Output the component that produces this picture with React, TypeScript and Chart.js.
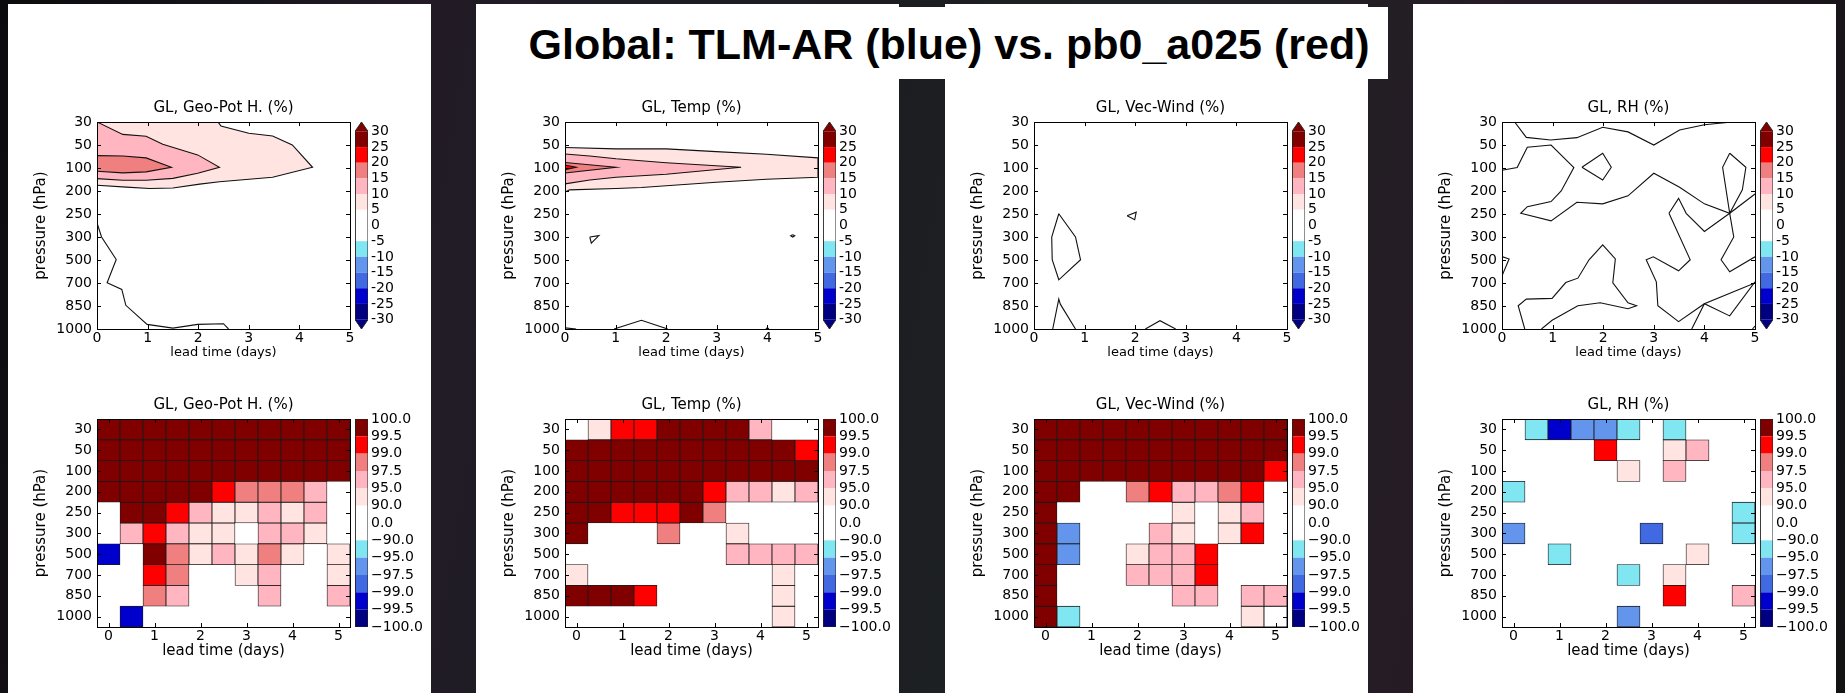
import React, { useEffect, useRef } from "react";
import { Chart, registerables } from "chart.js";

Chart.register(...registerables);

const FONT = "'DejaVu Sans', 'Liberation Sans', sans-serif";
Chart.defaults.font.family = FONT;
Chart.defaults.color = "#000";

/* ---------------- data ---------------- */
const pressureLevels = ["30", "50", "100", "200", "250", "300", "500", "700", "850", "1000"];
const leadTimes = [0, 0.5, 1, 1.5, 2, 2.5, 3, 3.5, 4, 4.5, 5];
const dayTicks = [0, 1, 2, 3, 4, 5];
const contourBounds = [-30, -25, -20, -15, -10, -5, 0, 5, 10, 15, 20, 25, 30];
const contourTickLabels = ["-30", "-25", "-20", "-15", "-10", "-5", "0", "5", "10", "15", "20", "25", "30"];
const sigBounds = [-100, -99.5, -99, -97.5, -95, -90, 0, 90, 95, 97.5, 99, 99.5, 100];
const sigTickLabels = ["−100.0", "−99.5", "−99.0", "−97.5", "−95.0", "−90.0", "0.0", "90.0", "95.0", "97.5", "99.0", "99.5", "100.0"];
const paletteColors = ["#000080", "#0000cd", "#4169e1", "#6495ed", "#80e6f2", "#ffffff", "#ffffff", "#ffe4e1", "#ffb6c1", "#f08080", "#ff0000", "#800000"];

// contour polygons / lines: [lead time (days), pressure level index (0 = 30 hPa ... 9 = 1000 hPa)]
const geoFill5 = [[0, 0], [2.39, 0], [2.45, 0.17], [3.0, 0.49], [3.47, 0.61], [3.86, 1.0], [4.26, 1.97], [3.47, 2.4], [2.42, 2.6], [2.03, 2.7], [1.5, 2.87], [1.04, 2.89], [0.58, 2.83], [0, 2.75]];
const geoFill10 = [[0, 0], [0.51, 0.54], [0.97, 0.62], [1.3, 0.97], [1.99, 1.43], [2.42, 1.97], [1.99, 2.23], [1.5, 2.45], [0.97, 2.53], [0.51, 2.53], [0, 2.46]];
const geoFill15 = [[0, 1.46], [0.51, 1.48], [0.97, 1.56], [1.47, 1.97], [0.97, 2.17], [0.51, 2.21], [0, 2.14]];
const geoLine0 = [[0, 4.39], [0.09, 5.0], [0.38, 5.98], [0.2, 6.99], [0.49, 7.28], [0.57, 7.97], [0.99, 8.8], [1.5, 8.96], [1.99, 8.8], [2.5, 8.77], [2.6, 9]];

const tempFill5 = [[0, 1.11], [1.01, 1.17], [2, 1.17], [2.99, 1.29], [3.98, 1.4], [5, 1.56], [5, 2.4], [3.98, 2.49], [2.99, 2.62], [1.51, 2.85], [1.01, 2.89], [0.09, 2.95], [0, 3.05]];
const tempFill10 = [[0, 1.39], [0.49, 1.48], [1.01, 1.6], [2, 1.77], [3.48, 1.97], [2, 2.27], [1.01, 2.4], [0.49, 2.52], [0, 2.69]];
const tempFill15 = [[0, 1.76], [1.01, 1.97], [0, 2.22]];
const tempFill20 = [[0, 1.87], [0.22, 1.97], [0, 2.07]];
const tempLineA = [[0.49, 5.0], [0.67, 4.94], [0.52, 5.27], [0.49, 5.0]];
const tempLineB = [[4.5, 4.9], [4.54, 4.95], [4.5, 5.0], [4.46, 4.95], [4.5, 4.9]];
const tempLineC = [[0.97, 9], [1.51, 8.62], [2.03, 9]];
const tempLineD = [[0, 8.95], [0.22, 9]];
const tempLineE = [[3.97, 9], [4.0, 8.94], [4.03, 9]];

const windLineA = [[0.49, 3.99], [0.82, 5.0], [0.92, 5.99], [0.49, 6.86], [0.36, 5.99], [0.35, 5.0], [0.49, 3.99]];
const windLineB = [[1.84, 4.08], [2.02, 3.92], [1.99, 4.25], [1.84, 4.08]];
const windLineC = [[0.37, 9], [0.49, 7.7], [0.52, 7.92], [0.82, 9]];
const windLineD = [[2.2, 9], [2.49, 8.64], [2.8, 9]];

const rhLineA = [[0.25, 0], [0.48, 0.67], [0.96, 0.78], [1.48, 0.68], [1.99, 0.23], [2.49, 0.43], [3.0, 1.0], [3.51, 0.35], [4.0, 0.12], [4.5, 0.01], [5, 0]];
const rhLineB = [[0, 2.1], [0.3, 1.98], [0.5, 1.1], [0.97, 1.0], [1.42, 1.98], [1.17, 3.0], [0.97, 3.46], [0.5, 3.68], [0.37, 3.97], [0.97, 4.3], [1.48, 3.49], [1.99, 3.56], [2.49, 3.21], [3.0, 2.23], [3.51, 2.84], [4.0, 3.56], [4.5, 3.97], [5, 3.13]];
const rhLineC = [[1.58, 1.97], [1.99, 1.36], [2.16, 1.97], [1.99, 2.52], [1.58, 1.97]];
const rhLineD = [[4.5, 1.36], [4.82, 1.97], [4.75, 2.95], [4.5, 3.97], [4.36, 1.97], [4.5, 1.36]];
const rhLineE = [[4.5, 3.97], [4.58, 5.0], [4.33, 5.99], [4.5, 6.51], [5, 5.86]];
const rhLineF = [[3.3, 3.97], [3.49, 3.32], [3.64, 3.97], [4.0, 4.76], [4.5, 3.97]];
const rhLineG = [[3.3, 3.97], [3.72, 5.99], [3.49, 6.47], [2.99, 5.86], [2.85, 5.99], [3.05, 6.95], [3.08, 7.99], [3.49, 8.68], [4.0, 7.9], [4.5, 8.43], [5, 6.95]];
const rhLineH = [[3.75, 9], [4.0, 7.9], [4.66, 7.3], [5, 7.0]];
const rhLineI = [[0, 5.85], [0.14, 5.96], [0, 6.69]];
const rhLineJ = [[0.45, 9], [0.32, 7.99], [0.48, 7.7], [0.99, 7.67], [1.26, 6.98], [1.5, 6.79], [1.72, 5.99], [1.99, 5.34], [2.24, 5.95], [2.19, 6.99], [2.49, 7.86], [2.66, 7.99], [2.49, 8.12], [1.94, 7.86], [1.5, 7.99], [0.99, 8.62], [0.78, 9]];
const rhLineK = [[4.95, 9], [5, 8.87]];

// significance (%) per pressure level (rows, 30 -> 1000 hPa) and lead time (columns); null = not shown
const geoSig = [
  [99.8, 99.8, 99.8, 99.8, 99.8, 99.8, 99.8, 99.8, 99.8, 99.8, 99.8],
  [99.8, 99.8, 99.8, 99.8, 99.8, 99.8, 99.8, 99.8, 99.8, 99.8, 99.8],
  [99.8, 99.8, 99.8, 99.8, 99.8, 99.8, 99.8, 99.8, 99.8, 99.8, 99.8],
  [99.8, 99.8, 99.8, 99.8, 99.8, 99.2, 98.2, 98.2, 98.2, 96.2, null],
  [null, 99.8, 99.8, 99.2, 96.2, 92.5, 92.5, 96.2, 92.5, 96.2, null],
  [null, 96.2, 99.2, 96.2, 92.5, 92.5, null, 96.2, 96.2, 92.5, null],
  [-99.2, null, 99.8, 98.2, 92.5, 96.2, 92.5, 98.2, 92.5, null, 92.5],
  [null, null, 99.2, 98.2, null, null, 92.5, 96.2, null, null, 92.5],
  [null, null, 98.2, 96.2, null, null, null, 96.2, null, null, 96.2],
  [null, -99.2, null, null, null, null, null, null, null, null, null],
];
const tempSig = [
  [null, 92.5, 99.2, 99.2, 99.8, 99.8, 99.8, 99.8, 96.2, null, null],
  [99.8, 99.8, 99.8, 99.8, 99.8, 99.8, 99.8, 99.8, 99.8, 99.8, 99.2],
  [99.8, 99.8, 99.8, 99.8, 99.8, 99.8, 99.8, 99.8, 99.8, 99.8, 99.8],
  [99.8, 99.8, 99.8, 99.8, 99.8, 99.8, 99.2, 96.2, 96.2, 92.5, 96.2],
  [99.8, 99.8, 99.2, 99.2, 99.2, 99.8, 98.2, null, null, null, null],
  [99.8, null, null, null, 98.2, null, null, 92.5, null, null, null],
  [null, null, null, null, null, null, null, 96.2, 96.2, 96.2, 96.2],
  [92.5, null, null, null, null, null, null, null, null, 92.5, null],
  [99.8, 99.8, 99.8, 99.2, null, null, null, null, null, 92.5, null],
  [null, null, null, null, null, null, null, null, null, 92.5, null],
];
const windSig = [
  [99.8, 99.8, 99.8, 99.8, 99.8, 99.8, 99.8, 99.8, 99.8, 99.8, 99.8],
  [99.8, 99.8, 99.8, 99.8, 99.8, 99.8, 99.8, 99.8, 99.8, 99.8, 99.8],
  [99.8, 99.8, 99.8, 99.8, 99.8, 99.8, 99.8, 99.8, 99.8, 99.8, 99.2],
  [99.8, 99.8, null, null, 98.2, 99.2, 96.2, 96.2, 98.2, 99.2, null],
  [99.8, null, null, null, null, null, 92.5, null, 92.5, 96.2, null],
  [99.8, -96.2, null, null, null, 96.2, 92.5, null, 92.5, 99.2, null],
  [99.8, -96.2, null, null, 92.5, 96.2, 96.2, 99.2, null, null, null],
  [99.8, null, null, null, 96.2, 96.2, 96.2, 99.2, null, null, null],
  [99.8, null, null, null, null, null, 96.2, 96.2, null, 96.2, 96.2],
  [99.8, -92.5, null, null, null, null, null, null, null, 92.5, 45],
];
const rhSig = [
  [null, -92.5, -99.2, -96.2, -96.2, -92.5, null, -92.5, null, null, null],
  [null, null, null, null, 99.2, null, null, 92.5, 96.2, null, null],
  [null, null, null, null, null, 92.5, null, 96.2, null, null, null],
  [-92.5, null, null, null, null, null, null, null, null, null, null],
  [null, null, null, null, null, null, null, null, null, null, -92.5],
  [-96.2, null, null, null, null, null, -98.2, null, null, null, -92.5],
  [null, null, -92.5, null, null, null, null, null, 92.5, null, null],
  [null, null, null, null, null, -92.5, null, 92.5, null, null, null],
  [null, null, null, null, null, null, null, 99.2, null, null, 96.2],
  [null, null, null, null, null, -96.2, null, null, null, null, null],
];

const topPanels = [
  { title: "GL, Geo-Pot H. (%)", fills: [{ level: 5, pts: geoFill5 }, { level: 10, pts: geoFill10 }, { level: 15, pts: geoFill15 }], lines: [geoLine0] },
  { title: "GL, Temp (%)", fills: [{ level: 5, pts: tempFill5 }, { level: 10, pts: tempFill10 }, { level: 15, pts: tempFill15 }, { level: 20, pts: tempFill20 }], lines: [tempLineA, tempLineB, tempLineC, tempLineD, tempLineE] },
  { title: "GL, Vec-Wind (%)", fills: [], lines: [windLineA, windLineB, windLineC, windLineD] },
  { title: "GL, RH (%)", fills: [], lines: [rhLineA, rhLineB, rhLineC, rhLineD, rhLineE, rhLineF, rhLineG, rhLineH, rhLineI, rhLineJ, rhLineK] },
];
const bottomPanels = [
  { title: "GL, Geo-Pot H. (%)", sig: geoSig },
  { title: "GL, Temp (%)", sig: tempSig },
  { title: "GL, Vec-Wind (%)", sig: windSig },
  { title: "GL, RH (%)", sig: rhSig },
];

/* ---------------- layout ---------------- */
const AX_LEFTS = [97, 565, 1034, 1502];
const AX_W = 253;
const TOP_AX = { top: 122, h: 207, xTitleSize: 13, xTitlePad: 5, xH: 36 };
const BOT_AX = { top: 419, h: 208, xTitleSize: 15, xTitlePad: 7, xH: 40 };
const Y_W = 92;
const T_H = 30;
const R_PAD = 14;
const CB_OFF = 258;
const CB_W = 13;
const CB_LABEL_W = 60;
const LINE_COLOR = "#111";
const BG = "linear-gradient(100deg, #0b0b0d 0%, #221b26 22%, #1b1d21 45%, #1f2224 60%, #261b25 78%, #121114 100%)";

const sigColor = (v: number) => {
  for (let k = sigBounds.length - 2; k >= 0; k--) if (v >= sigBounds[k]) return paletteColors[k];
  return paletteColors[0];
};
const toXY = (pts: number[][]) => pts.map(([x, y]) => ({ x, y }));

const frameTicks = {
  id: "frameTicks",
  afterDatasetsDraw(chart: any) {
    const { ctx, chartArea: a, scales } = chart;
    const L = 4;
    const r = (v: number) => Math.round(v) + 0.5;
    ctx.save();
    ctx.strokeStyle = "#000";
    ctx.lineWidth = 1;
    ctx.beginPath();
    for (const t of scales.x.ticks) {
      const px = r(scales.x.getPixelForValue(t.value));
      ctx.moveTo(px, a.bottom); ctx.lineTo(px, a.bottom - L);
      ctx.moveTo(px, a.top); ctx.lineTo(px, a.top + L);
    }
    for (const t of scales.y.ticks) {
      const py = r(scales.y.getPixelForValue(t.value));
      ctx.moveTo(a.left, py); ctx.lineTo(a.left + L, py);
      ctx.moveTo(a.right, py); ctx.lineTo(a.right - L, py);
    }
    ctx.stroke();
    ctx.strokeRect(r(a.left), r(a.top), Math.round(a.right) - Math.round(a.left), Math.round(a.bottom) - Math.round(a.top));
    ctx.restore();
  },
};

const titleOpts = (text: string) => ({
  display: true,
  text,
  fullSize: false,
  color: "#000",
  font: { family: FONT, size: 15, weight: "normal" },
  padding: { top: 7, bottom: 5 },
});

const xAxis = (min: number, max: number, row: any) => ({
  type: "linear",
  min,
  max,
  offset: false,
  afterBuildTicks: (s: any) => { s.ticks = dayTicks.map((v) => ({ value: v })); },
  afterFit: (s: any) => { s.height = row.xH; s.paddingLeft = 0; s.paddingRight = 0; },
  ticks: { autoSkip: false, maxRotation: 0, padding: 1, color: "#000", font: { size: 14 }, callback: (v: any) => String(v) },
  grid: { display: false, drawTicks: false },
  border: { display: false },
  title: { display: true, text: "lead time (days)", color: "#000", font: { size: row.xTitleSize }, padding: { top: 0, bottom: row.xTitlePad } },
});

const yAxis = (extra: any) => ({
  type: "linear",
  afterFit: (s: any) => { s.width = Y_W; s.paddingTop = 0; s.paddingBottom = 0; },
  grid: { display: false, drawTicks: false },
  border: { display: false },
  title: { display: true, text: "pressure (hPa)", color: "#000", font: { size: 15 }, padding: { top: 27, bottom: 0 } },
  ...extra,
});

const baseOptions = (title: string) => ({
  responsive: false,
  maintainAspectRatio: false,
  animation: false,
  events: [],
  layout: { padding: { left: 0, right: R_PAD, top: 0, bottom: 0 } },
  plugins: { legend: { display: false }, tooltip: { enabled: false }, title: titleOpts(title) },
});

function contourConfig(p: any) {
  const datasets: any[] = [];
  p.fills.forEach((f: any, i: number) => {
    datasets.push({
      data: toXY(f.pts),
      fill: "shape",
      backgroundColor: paletteColors[contourBounds.indexOf(f.level)],
      borderColor: LINE_COLOR,
      borderWidth: 1.1,
      pointRadius: 0,
      tension: 0,
      order: 100 - i,
    });
  });
  p.lines.forEach((l: number[][]) => {
    datasets.push({ data: toXY(l), fill: false, borderColor: LINE_COLOR, borderWidth: 1.1, pointRadius: 0, tension: 0, order: 0 });
  });
  return {
    type: "line",
    data: { datasets },
    options: {
      ...baseOptions(p.title),
      scales: {
        x: xAxis(0, 5, TOP_AX),
        y: yAxis({
          reverse: true,
          min: 0,
          max: pressureLevels.length - 1,
          afterBuildTicks: (s: any) => { s.ticks = pressureLevels.map((_, i) => ({ value: i })); },
          ticks: { autoSkip: false, padding: 5, color: "#000", font: { size: 14 }, callback: (v: any) => pressureLevels[v] },
        }),
      },
    },
    plugins: [frameTicks],
  };
}

function heatmapConfig(p: any) {
  const n = pressureLevels.length;
  const datasets = pressureLevels.map((_, r) => {
    const yi = n - 1 - r;
    const cells = p.sig[r].map((v: any, c: number) => ({ v, c })).filter((o: any) => o.v !== null);
    return {
      type: "bar",
      data: cells.map((o: any) => ({ x: leadTimes[o.c], y: [yi, yi + 1] })),
      backgroundColor: cells.map((o: any) => sigColor(o.v)),
      borderColor: "#1a1a1a",
      borderWidth: 0.8,
      borderSkipped: false,
      grouped: false,
      barPercentage: 1,
      categoryPercentage: 1,
    };
  });
  const halfStep = (leadTimes[1] - leadTimes[0]) / 2;
  return {
    type: "bar",
    data: { datasets },
    options: {
      ...baseOptions(p.title),
      scales: {
        x: xAxis(leadTimes[0] - halfStep, leadTimes[leadTimes.length - 1] + halfStep, BOT_AX),
        y: yAxis({
          min: 0,
          max: n,
          afterBuildTicks: (s: any) => { s.ticks = pressureLevels.map((_, r) => ({ value: n - 1 - r + 0.5 })); },
          ticks: { autoSkip: false, padding: 5, color: "#000", font: { size: 14 }, callback: (v: any) => pressureLevels[Math.round(n - 0.5 - v)] },
        }),
      },
    },
    plugins: [frameTicks],
  };
}

function colorbarConfig(labels: string[], ext: number) {
  const nSeg = paletteColors.length;
  const datasets: any[] = paletteColors.map((c, k) => ({
    data: toXY([[0, k], [1, k], [1, k + 1], [0, k + 1]]),
    fill: "shape",
    backgroundColor: c,
    borderColor: c,
    borderWidth: 0,
    pointRadius: 0,
    order: 10,
  }));
  let outline = [[0, 0], [1, 0], [1, nSeg], [0, nSeg], [0, 0]];
  if (ext > 0) {
    datasets.push({ data: toXY([[0, nSeg], [1, nSeg], [0.5, nSeg + ext]]), fill: "shape", backgroundColor: paletteColors[nSeg - 1], borderWidth: 0, pointRadius: 0, order: 10 });
    datasets.push({ data: toXY([[0, 0], [1, 0], [0.5, -ext]]), fill: "shape", backgroundColor: paletteColors[0], borderWidth: 0, pointRadius: 0, order: 10 });
    outline = [[0, 0], [0.5, -ext], [1, 0], [1, nSeg], [0.5, nSeg + ext], [0, nSeg], [0, 0]];
  }
  datasets.push({ data: toXY(outline), fill: false, borderColor: "#222", borderWidth: 1, pointRadius: 0, order: 0 });
  return {
    type: "line",
    data: { datasets },
    options: {
      responsive: false,
      maintainAspectRatio: false,
      animation: false,
      events: [],
      layout: { padding: { left: 0, right: 0, top: 8, bottom: 6 } },
      plugins: { legend: { display: false }, tooltip: { enabled: false }, title: { display: false } },
      scales: {
        x: { type: "linear", min: 0, max: 1, display: false },
        y: {
          type: "linear",
          position: "right",
          min: -ext,
          max: nSeg + ext,
          afterBuildTicks: (s: any) => { s.ticks = labels.map((_, i) => ({ value: i })); },
          afterFit: (s: any) => { s.width = CB_LABEL_W; s.paddingTop = 0; s.paddingBottom = 0; },
          ticks: { autoSkip: false, padding: 3, color: "#000", font: { size: 14 }, callback: (v: any) => labels[Math.round(v)] },
          grid: { display: false, drawTicks: false },
          border: { display: false },
        },
      },
    },
  };
}

function ChartCanvas({ left, top, width, height, make }: any) {
  const ref = useRef<HTMLCanvasElement>(null);
  useEffect(() => {
    const chart = new Chart(ref.current as HTMLCanvasElement, make());
    return () => chart.destroy();
  }, []);
  return <canvas ref={ref} width={width} height={height} style={{ position: "absolute", left, top, width, height }} />;
}

const PANEL_LEFTS = [8, 476, 945, 1413];

export default function App() {
  return (
    <div style={{ position: "fixed", left: 0, top: 0, width: 1845, height: 693, overflow: "hidden", background: BG }}>
      {PANEL_LEFTS.map((l) => (
        <div key={"p" + l} style={{ position: "absolute", left: l, top: 4, width: 423, height: 689, background: "#fff" }} />
      ))}
      <div style={{ position: "absolute", left: 476, top: 7, width: 912, height: 72, background: "#fff" }} />
      <div
        style={{
          position: "absolute",
          left: 449,
          top: 23,
          width: 1000,
          textAlign: "center",
          whiteSpace: "nowrap",
          fontFamily: "'Liberation Sans', Arial, sans-serif",
          fontWeight: 700,
          fontSize: 43,
          lineHeight: 1,
          color: "#000",
        }}
      >
        Global: TLM-AR (blue) vs. pb0_a025 (red)
      </div>
      {topPanels.map((p, i) => (
        <React.Fragment key={"t" + i}>
          <ChartCanvas
            left={AX_LEFTS[i] - Y_W}
            top={TOP_AX.top - T_H}
            width={Y_W + AX_W + R_PAD}
            height={T_H + TOP_AX.h + TOP_AX.xH}
            make={() => contourConfig(p)}
          />
          <ChartCanvas
            left={AX_LEFTS[i] + CB_OFF}
            top={TOP_AX.top - 8}
            width={CB_W + CB_LABEL_W}
            height={TOP_AX.h + 14}
            make={() => colorbarConfig(contourTickLabels, 0.6)}
          />
        </React.Fragment>
      ))}
      {bottomPanels.map((p, i) => (
        <React.Fragment key={"b" + i}>
          <ChartCanvas
            left={AX_LEFTS[i] - Y_W}
            top={BOT_AX.top - T_H}
            width={Y_W + AX_W + R_PAD}
            height={T_H + BOT_AX.h + BOT_AX.xH}
            make={() => heatmapConfig(p)}
          />
          <ChartCanvas
            left={AX_LEFTS[i] + CB_OFF}
            top={BOT_AX.top - 8}
            width={CB_W + CB_LABEL_W}
            height={BOT_AX.h + 14}
            make={() => colorbarConfig(sigTickLabels, 0)}
          />
        </React.Fragment>
      ))}
    </div>
  );
}
